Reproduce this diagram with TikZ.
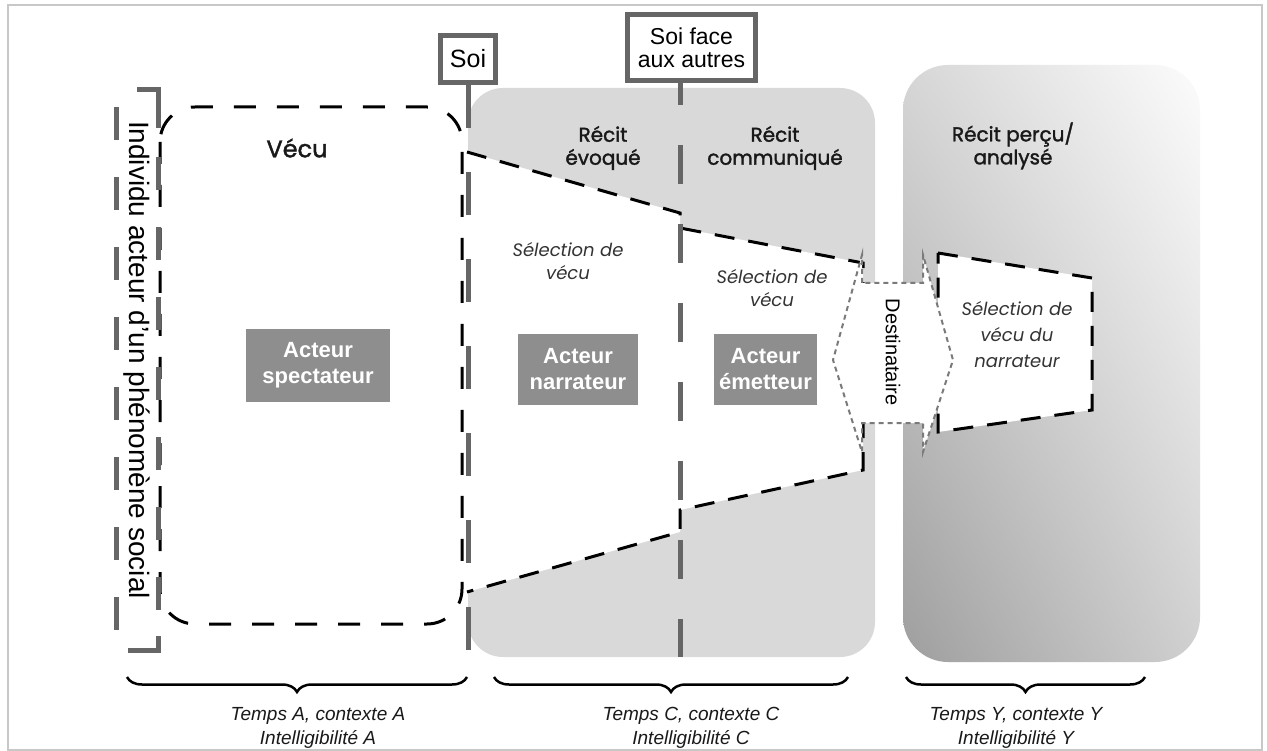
\documentclass[tikz,border=0pt]{standalone}
\usepackage{fontspec}
\setmainfont{Liberation Sans}
\newfontfamily\geo{Poppins}[FakeBold=1.6]
\newfontfamily\geoit{Poppins}
\usetikzlibrary{decorations.pathreplacing,shadings}
\definecolor{midgray}{HTML}{D9D9D9}
\definecolor{linegray}{HTML}{666666}
\definecolor{boxgray}{HTML}{8E8E8E}
\definecolor{framegray}{HTML}{C8C8C8}
\definecolor{dotgray}{HTML}{7A7A7A}
\begin{document}
\begin{tikzpicture}[x=1pt,y=-1pt,
  blackdash/.style={draw=black, line width=3pt, dash pattern=on 20pt off 14pt},
  graydash/.style={draw=linegray, line width=5pt},
  labelbox/.style={draw=linegray, line width=5pt, fill=white, inner sep=0pt, align=center},
  actorbox/.style={fill=boxgray, text=white, font=\bfseries\fontsize{22}{26}\selectfont, align=center, inner sep=0pt},
  heading/.style={font=\geo\fontsize{20}{23}\selectfont, align=center, text=black!90},
  seltext/.style={font=\geoit\itshape\fontsize{18}{23}\selectfont, align=center, text=black!80},
  bracetext/.style={font=\itshape\fontsize{19}{24}\selectfont, align=center, text=black!90},
  bracestyle/.style={draw=black, line width=2.5pt, decorate, decoration={brace, amplitude=15pt}}
]
\useasboundingbox (0,0) rectangle (1267,751);
\fill[white] (0,0) rectangle (1267,751);
% outer frame
\draw[framegray, line width=2pt] (8,5) rectangle (1262,750);

% middle light gray panel
\fill[midgray, rounded corners=35pt] (468,88) rectangle (875,657);
% right gradient panel
\shade[rounded corners=45pt, upper left={rgb,255:red,214;green,214;blue,214}, upper right={rgb,255:red,252;green,252;blue,252},
  lower left={rgb,255:red,158;green,158;blue,158}, lower right={rgb,255:red,208;green,208;blue,208}]
  (903,65) rectangle (1200,662);

% white selection region (middle)
\fill[white] (467,152) -- (680,213) -- (680,228) -- (863,263) -- (863,470) -- (680,510) -- (680,532) -- (467,592) -- cycle;
\draw[blackdash, line join=miter] (467,152) -- (680,213) -- (680,228) -- (863,263) -- (863,470) -- (680,510) -- (680,532) -- (467,592);

% right selection region
\fill[white] (938,253) -- (1092,278) -- (1092,410) -- (938,432) -- cycle;
\draw[blackdash] (938,253) -- (1092,278) -- (1092,410) -- (938,432) -- cycle;

% Vecu dashed rounded rectangle
\draw[draw=black, line width=3pt, dash pattern=on 22pt off 21pt, rounded corners=35pt] (160,107) rectangle (462,624);

% bracket around the vertical label
\draw[linegray, line width=5pt] (137,90) -- (158,90) -- (158,128);
\draw[linegray, line width=5pt] (128,650) -- (158,650) -- (158,636);
\draw[linegray, line width=5pt, dash pattern=on 33pt off 37pt] (116,107) -- (116,636);
\draw[linegray, line width=5pt, dash pattern=on 33pt off 37pt] (158,157) -- (158,620);

% label boxes
\node[labelbox, minimum width=55pt, minimum height=47pt, font=\fontsize{25}{28}\selectfont] (soi) at (468,59) {Soi};
\node[labelbox, minimum width=128pt, minimum height=66pt, font=\fontsize{23}{24}\selectfont] (soiface) at (691.5,47.5) {Soi face\\[-1pt]aux autres};
\coordinate (soiend) at (soi.south |- 0,657);
\coordinate (faceend) at (680,657);
\coordinate (facetop) at (680,80.5);
\draw[graydash, dash pattern=on 43pt off 44pt] (soi.south) -- (soiend);
\draw[graydash, dash pattern=on 39pt off 40pt, dash phase=14.5pt] (facetop) -- (faceend);

% Destinataire double arrow
\draw[dotgray, line width=2pt, dash pattern=on 5pt off 4pt, fill=white, line join=miter]
  (862,283) -- (862,255) -- (833,360) -- (862,452) -- (862,423) -- (923,423) -- (923,452) -- (953,360) -- (923,255) -- (923,283) -- cycle;
\node[rotate=-90, font=\fontsize{20}{22}\selectfont] (dest) at (893,352) {Destinataire};

% headings
\node[heading, font=\geo\fontsize{24}{28}\selectfont] (vecu) at (297,148) {Vécu};
\node[heading] (evoque) at (603,148) {Récit\\évoqué};
\node[heading] (communique) at (775,148) {Récit\\communiqué};
\node[heading] (percu) at (1013,146) {Récit perçu/\\analysé};

% selection texts
\node[seltext] (sel1) at (568,261) {Sélection de\\vécu};
\node[seltext] (sel2) at (772,288) {Sélection de\\vécu};
\node[seltext, font=\geoit\itshape\fontsize{18}{26}\selectfont] (sel3) at (1017,335) {Sélection de\\vécu du\\narrateur};

% actor boxes
\node[actorbox, minimum width=144pt, minimum height=73pt] (spect) at (318,365.5) {Acteur\\spectateur};
\node[actorbox, minimum width=120pt, minimum height=71pt] (narr) at (578,369.5) {Acteur\\narrateur};
\node[actorbox, minimum width=103pt, minimum height=71pt] (emet) at (765.5,369.5) {Acteur\\émetteur};

% vertical label
\node[rotate=-90, font=\fontsize{28}{30}\selectfont] (indiv) at (137,360) {Individu acteur d’un phénomène social};

% braces
\coordinate (b1r) at (467,677); \coordinate (b1l) at (127,677);
\coordinate (b2r) at (848,677); \coordinate (b2l) at (494,677);
\coordinate (b3r) at (1145,677); \coordinate (b3l) at (906,677);
\draw[bracestyle] (b1r) -- (b1l);
\draw[bracestyle] (b2r) -- (b2l);
\draw[bracestyle] (b3r) -- (b3l);
\node[bracetext] (ta) at (318,728) {Temps A, contexte A\\Intelligibilité A};
\node[bracetext] (tc) at (691,728) {Temps C, contexte C\\Intelligibilité C};
\node[bracetext] (ty) at (1016,728) {Temps Y, contexte Y\\Intelligibilité Y};
\end{tikzpicture}
\end{document}
